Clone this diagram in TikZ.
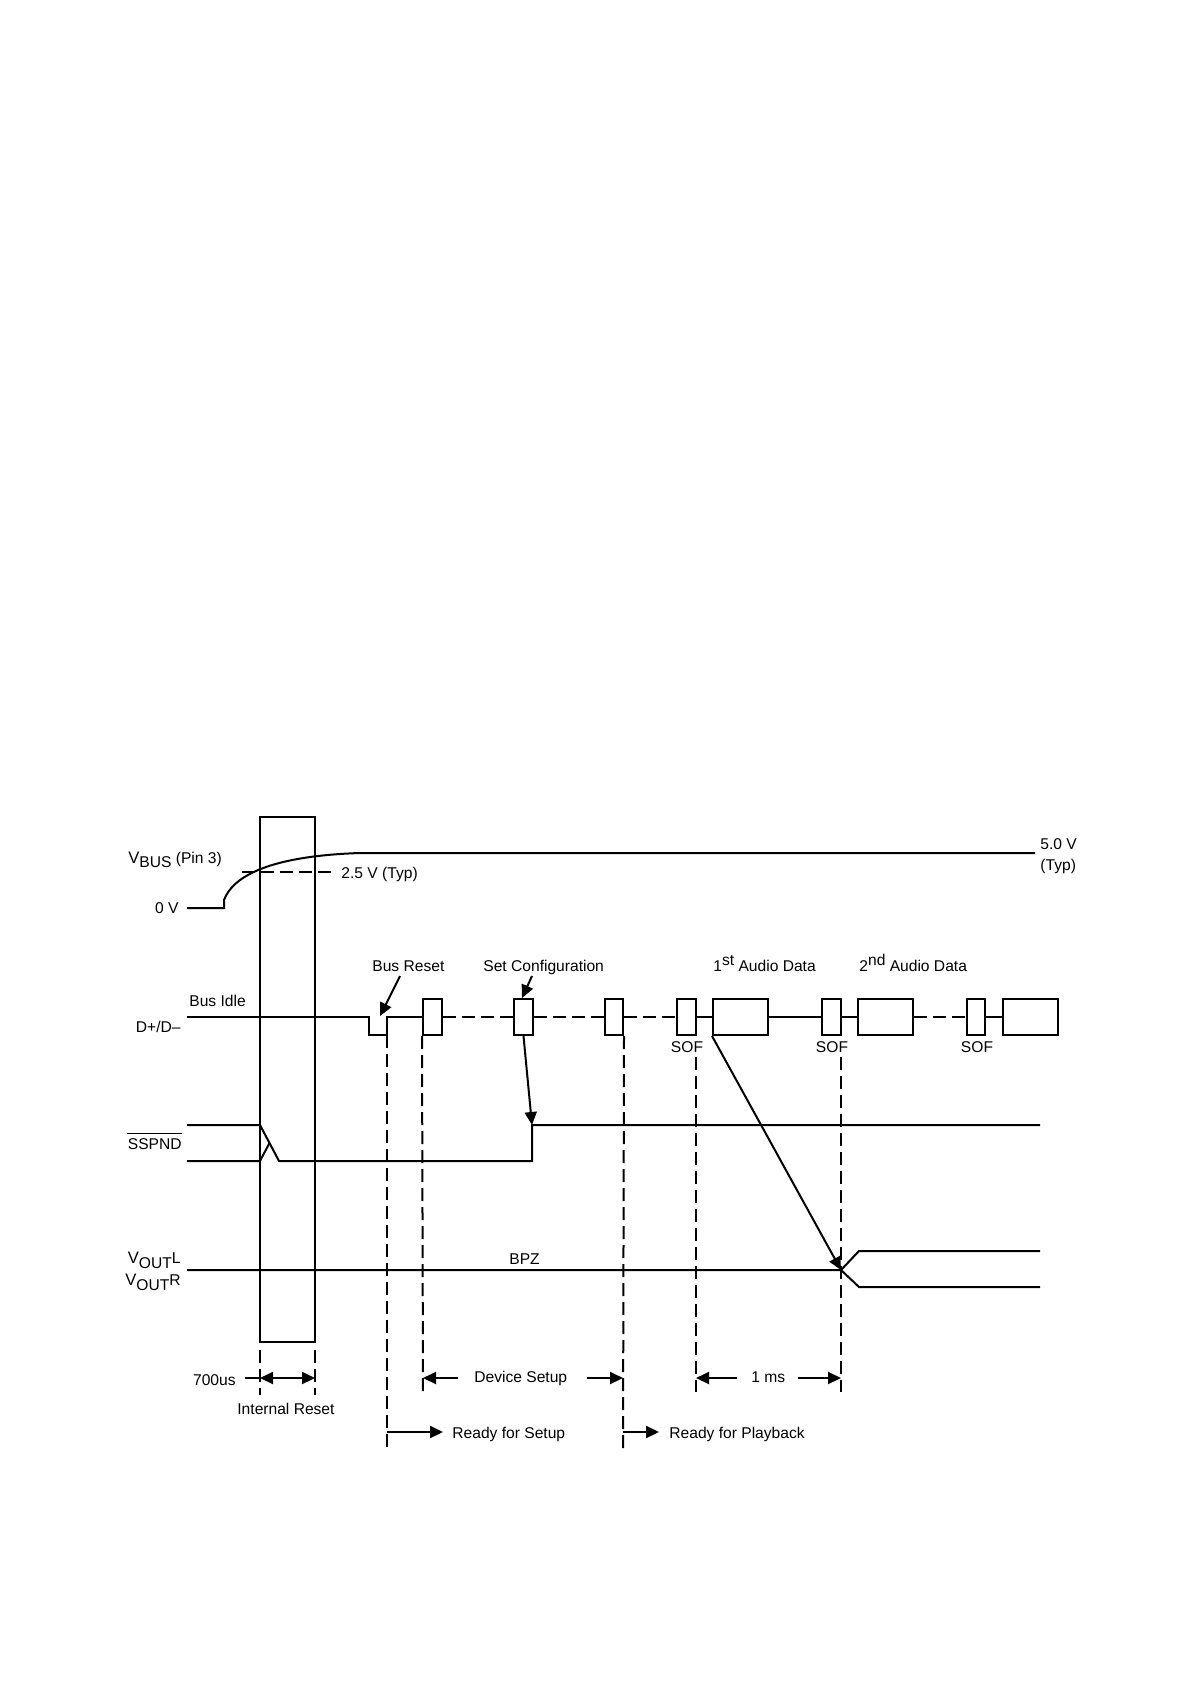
\documentclass[tikz,border=0pt]{standalone}
\usepackage{fontspec}
\setmainfont{Liberation Sans}
\usetikzlibrary{arrows.meta,fit}
\begin{document}
\begin{tikzpicture}[x=0.5pt,y=-0.5pt,
  sig/.style={line width=1pt, line join=miter},
  dsh/.style={line width=1pt, dash pattern=on 6.5pt off 3pt},
  pkt/.style={draw, line width=1pt, inner sep=0pt},
  lbl/.style={inner sep=0pt, font=\fontsize{7.8}{9}\selectfont},
  tip/.style={-{Triangle[length=6.5pt,width=6pt]}},
  dtip/.style={{Triangle[length=6.5pt,width=6pt]}-{Triangle[length=6.5pt,width=6pt]}},
]
\useasboundingbox (0,0) rectangle (1190,1684);

% ---------- VBUS ----------
\coordinate (v0) at (187,908);
\coordinate (v1) at (224,908);
\coordinate (v2) at (224,900);
\coordinate (v3) at (360,853);
\coordinate (v4) at (1035,853);
\draw[sig] (v0) -- (v1) -- (v2) .. controls (233,876) and (270,856) .. (v3) -- (v4);
\coordinate (h0) at (242,872);
\coordinate (h1) at (332,872);
\draw[dsh] (h0) -- (h1);
\node[lbl,anchor=base west] (vbusl) at (128,863) {{\fontsize{8.3}{9}\selectfont V}\raisebox{-2pt}{BUS} (Pin 3)};
\node[lbl,anchor=base east] (zv) at (179,913) {0 V};
\node[lbl,anchor=base west] (half) at (341,878) {2.5 V (Typ)};
\node[lbl,anchor=base west] (five) at (1040,849) {5.0 V};
\node[lbl,anchor=base west] (fivet) at (1040,870) {(Typ)};

% ---------- Internal reset box ----------
\node[pkt, fit={(260,817) (315,1342)}] (rst) {};

% ---------- D+/D- ----------
\node[pkt, fit={(423,999) (442,1035)}] (b1) {};
\node[pkt, fit={(514,999) (533,1035)}] (b2) {};
\node[pkt, fit={(605,999) (623,1035)}] (b3) {};
\node[pkt, fit={(677,999) (696,1035)}] (s1) {};
\node[pkt, fit={(713,999) (768,1035)}] (a1) {};
\node[pkt, fit={(822,999) (841,1035)}] (s2) {};
\node[pkt, fit={(858,999) (913,1035)}] (a2) {};
\node[pkt, fit={(967,999) (985,1035)}] (s3) {};
\node[pkt, fit={(1003,999) (1058,1035)}] (a3) {};
\coordinate (d0) at (187,1017);
\draw[sig] (d0) -- (369,1017) -- (369,1035) -- (387,1035) -- (387,1017) -- (b1.west);
\draw[dsh] (b1.east) -- (b2.west);
\draw[dsh] (b2.east) -- (b3.west);
\draw[dsh] (b3.east) -- (s1.west);
\draw[sig] (s1.east) -- (a1.west);
\draw[sig] (a1.east) -- (s2.west);
\draw[sig] (s2.east) -- (a2.west);
\draw[dsh] (a2.east) -- (s3.west);
\draw[sig] (s3.east) -- (a3.west);

\node[lbl,anchor=base west] (idle) at (189,1006) {Bus Idle};
\node[lbl,anchor=base east] (dpl) at (181,1032) {D+/D–};
\node[lbl,anchor=base west] (brl) at (372,971) {Bus Reset};
\node[lbl,anchor=base west] (scl) at (483,971) {Set Configuration};
\node[lbl,anchor=base west] (a1l) at (713,971) {1\raisebox{3pt}{st} Audio Data};
\node[lbl,anchor=base west] (a2l) at (859,971) {2\raisebox{3pt}{nd} Audio Data};
\node[lbl,anchor=base] (sof1) at (687,1052) {SOF};
\node[lbl,anchor=base] (sof2) at (832,1052) {SOF};
\node[lbl,anchor=base] (sof3) at (977,1052) {SOF};

\coordinate (br0) at (400,976);
\coordinate (br1) at (380,1016);
\draw[sig,tip] (br0) -- (br1);
\coordinate (sc0) at (532,976);
\coordinate (sc1) at (522,998);
\draw[sig,tip] (sc0) -- (sc1);

% ---------- SSPND ----------
\coordinate (ss0) at (187,1125);
\coordinate (ss1) at (187,1161);
\coordinate (rise) at (532,1125);
\draw[sig] (ss0) -- (260,1125) -- (279,1161) -- (532,1161) -- (rise) -- (1040,1125);
\draw[sig] (ss1) -- (260,1161) -- (269.5,1143);
\draw[sig,tip] (b2.south) -- (rise);
\node[lbl,anchor=base east] (sspnd) at (182,1149) {SSPND};
\draw[line width=0.7pt] ([yshift=2pt]sspnd.north west) -- ([yshift=2pt]sspnd.north east);

% ---------- VOUT ----------
\coordinate (vo0) at (187,1270);
\coordinate (vx) at (841,1270);
\draw[sig] (vo0) -- (vx) -- (859,1251) -- (1040,1251);
\draw[sig] (vx) -- (859,1287) -- (1040,1287);
\draw[sig,tip] (a1.south west) -- (vx);
\node[lbl,anchor=base east] (voutl) at (181,1263) {{\fontsize{8.3}{9}\selectfont V}\raisebox{-2.5pt}{OUT}L};
\node[lbl,anchor=base east] (voutr) at (181,1285) {{\fontsize{8.3}{9}\selectfont V}\raisebox{-2.5pt}{OUT}R};
\node[lbl,anchor=base west] (bpz) at (509,1264) {BPZ};

% ---------- dashed timing markers ----------
\draw[dsh] (387,1035) -- (387,1450);
\draw[dsh] (b1.south west) -- (423,1395);
\draw[dsh] (b3.south east) -- (623,1450);
\draw[dsh] (696,1057) -- (696,1392);
\draw[dsh] (841,1057) -- (841,1392);
\draw[dsh] (260,1350) -- (260,1395);
\draw[dsh] (315,1350) -- (315,1395);

% ---------- timing arrows ----------
\coordinate (t0) at (245,1378);
\coordinate (t1) at (260,1378);
\coordinate (t2) at (315,1378);
\draw[sig] (t0) -- (t1);
\draw[sig,dtip] (t1) -- (t2);
\node[lbl,anchor=base east] (us) at (236,1385) {700us};
\node[lbl,anchor=base west] (irst) at (237,1414) {Internal Reset};

\node[lbl,anchor=base west] (dset) at (474,1382) {Device Setup};
\draw[sig,tip] (458,1378) -- (423,1378);
\draw[sig,tip] (587,1378) -- (623,1378);

\node[lbl,anchor=base west] (ms) at (751,1382) {1 ms};
\draw[sig,tip] (737,1378) -- (696,1378);
\draw[sig,tip] (798,1378) -- (841,1378);

\draw[sig,tip] (387,1432) -- (443,1432);
\node[lbl,anchor=base west] (rfs) at (452,1438) {Ready for Setup};
\draw[sig,tip] (623,1432) -- (659,1432);
\node[lbl,anchor=base west] (rfp) at (669,1438) {Ready for Playback};
\end{tikzpicture}
\end{document}
